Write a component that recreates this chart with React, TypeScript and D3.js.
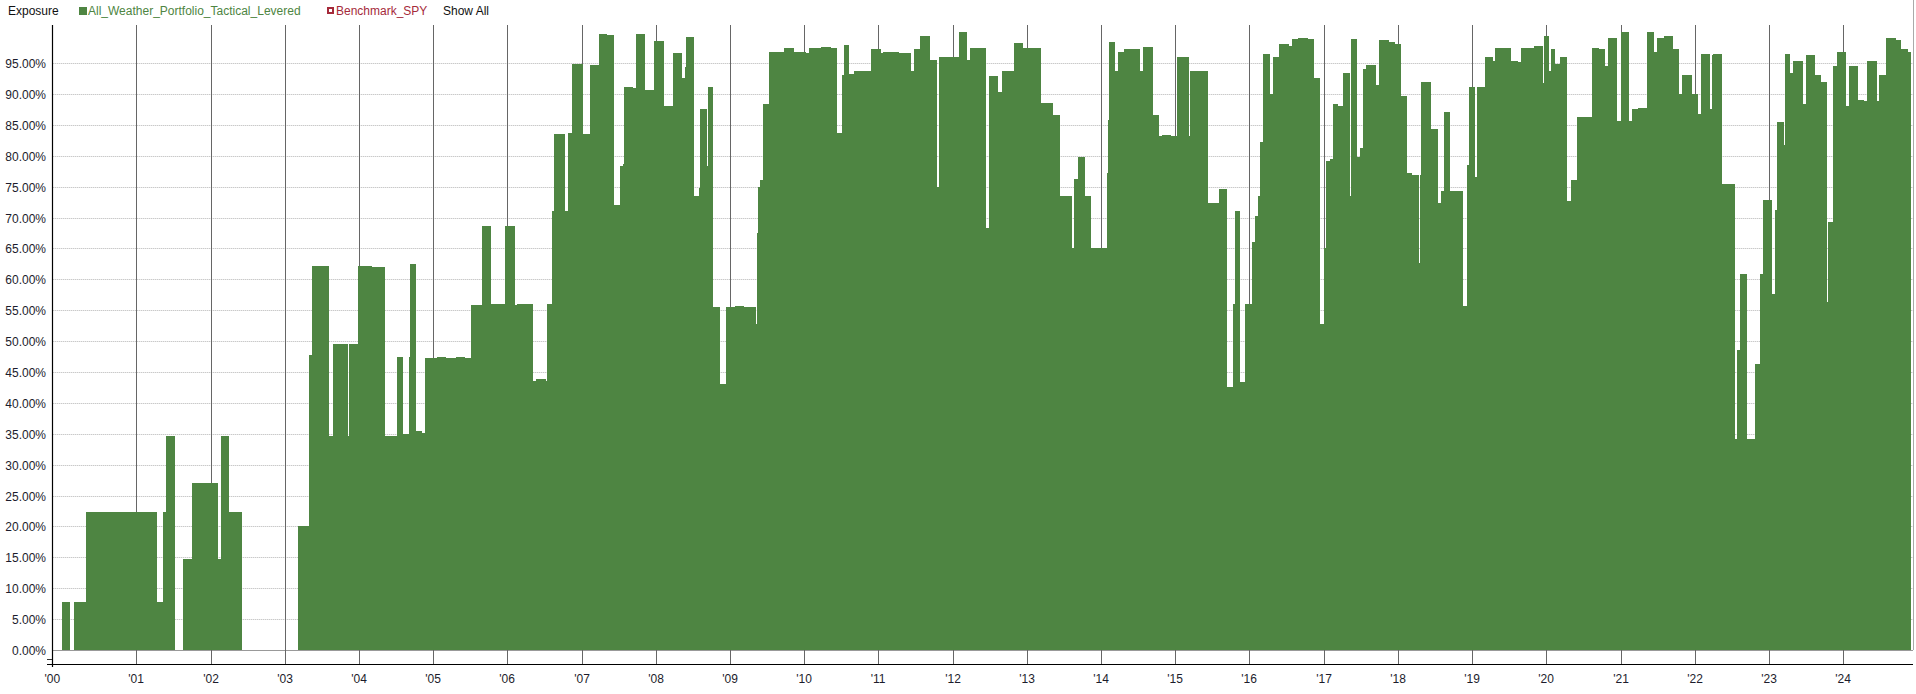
import React from "react";
import * as d3 from "d3";

// ---------- DATA ----------
// Start of each exposure period, in decimal years; each period lasts until the next start.
const periodStart: number[] = [
  2000.000, 2000.107, 2000.161, 2000.322,
  2001.279, 2001.360, 2001.400, 2001.521, 2001.629, 2001.750,
  2002.101, 2002.141, 2002.249, 2002.424,
  2003.179, 2003.327, 2003.367, 2003.596, 2003.650, 2003.852, 2003.866, 2003.987,
  2004.176, 2004.351, 2004.513, 2004.594, 2004.674, 2004.688, 2004.769, 2004.850, 2004.890,
  2005.052, 2005.173, 2005.308, 2005.429, 2005.510, 2005.658, 2005.779, 2005.968,
  2006.103, 2006.130, 2006.345, 2006.386, 2006.520, 2006.534, 2006.601, 2006.628, 2006.776, 2006.817, 2006.871,
  2007.019, 2007.113, 2007.234, 2007.342, 2007.437, 2007.517, 2007.558, 2007.571, 2007.693, 2007.733, 2007.854, 2007.976,
  2008.110, 2008.232, 2008.353, 2008.393, 2008.407, 2008.515, 2008.582, 2008.595, 2008.690, 2008.703, 2008.770, 2008.865, 2008.946,
  2009.067, 2009.188, 2009.350, 2009.363, 2009.377, 2009.404, 2009.444, 2009.525, 2009.727, 2009.862,
  2010.024, 2010.064, 2010.226, 2010.360, 2010.441, 2010.509, 2010.536, 2010.603, 2010.670, 2010.899,
  2011.034, 2011.061, 2011.277, 2011.438, 2011.479, 2011.560, 2011.694, 2011.789, 2011.816,
  2012.085, 2012.193, 2012.233, 2012.449, 2012.489, 2012.611, 2012.664, 2012.826, 2012.947,
  2013.190, 2013.352, 2013.446, 2013.608, 2013.635, 2013.689, 2013.783, 2013.864,
  2014.079, 2014.093, 2014.106, 2014.187, 2014.227, 2014.308, 2014.524, 2014.564, 2014.699, 2014.780, 2014.820, 2014.942,
  2015.022, 2015.184, 2015.198, 2015.440, 2015.588, 2015.696, 2015.777, 2015.804, 2015.871, 2015.939,
  2016.033, 2016.073, 2016.114, 2016.141, 2016.181, 2016.276, 2016.316, 2016.397, 2016.531, 2016.572, 2016.653, 2016.788, 2016.868, 2016.949,
  2017.003, 2017.030, 2017.084, 2017.124, 2017.192, 2017.259, 2017.353, 2017.367, 2017.448, 2017.488, 2017.529, 2017.569, 2017.704, 2017.744, 2017.879, 2017.960,
  2018.041, 2018.121, 2018.189, 2018.283, 2018.297, 2018.310, 2018.445, 2018.539, 2018.580, 2018.620, 2018.701, 2018.876, 2018.930, 2018.957,
  2019.038, 2019.065, 2019.172, 2019.280, 2019.307, 2019.523, 2019.617, 2019.658, 2019.833, 2019.954, 2019.967,
  2020.035, 2020.062, 2020.116, 2020.183, 2020.277, 2020.331, 2020.412, 2020.614, 2020.708, 2020.789, 2020.830, 2020.951,
  2021.005, 2021.113, 2021.153, 2021.234, 2021.355, 2021.450, 2021.490, 2021.584, 2021.706, 2021.786, 2021.827, 2021.962,
  2022.042, 2022.083, 2022.204, 2022.231, 2022.245, 2022.366, 2022.541, 2022.568, 2022.608, 2022.703, 2022.810, 2022.878, 2022.918,
  2023.039, 2023.080, 2023.107, 2023.201, 2023.215, 2023.282, 2023.322, 2023.457, 2023.498, 2023.619, 2023.700, 2023.781, 2023.794, 2023.861, 2023.915,
  2024.037, 2024.077, 2024.198, 2024.279, 2024.319, 2024.454, 2024.481, 2024.576, 2024.710, 2024.778, 2024.872,
];
const lastPeriodEnd = 2024.913;

// Exposure (%) of All_Weather_Portfolio_Tactical_Levered for each period above.
const exposurePct: number[] = [
  7.8, 0, 7.8, 22.3,
  7.8, 22.3, 34.7, 0, 14.8, 27.1,
  14.8, 34.7, 22.3, 0,
  20.0, 47.8, 62.2, 34.7, 49.6, 34.7, 49.6, 62.2,
  62.0, 34.7, 47.5, 35.0, 47.5, 62.4, 35.4, 35.2, 47.3,
  47.5, 47.3, 47.5, 47.3, 55.9, 68.6, 56.0, 68.6,
  55.9, 56.0, 43.6, 43.8, 43.6, 56.0, 71.0, 83.6, 71.0, 83.7, 94.9,
  83.6, 94.7, 99.7, 99.5, 72.1, 78.4, 78.7, 91.2, 91.0, 99.7, 90.7, 98.6,
  88.1, 96.6, 92.6, 94.4, 99.2, 73.5, 74.8, 87.5, 78.4, 91.2, 55.6, 43.0, 55.6,
  55.7, 55.6, 52.7, 67.5, 75.0, 76.0, 88.3, 96.8, 97.4, 96.8,
  96.6, 97.4, 97.6, 97.4, 83.7, 93.1, 98.0, 93.3, 93.7, 97.2,
  96.6, 96.8, 96.6, 93.7, 97.2, 99.4, 95.5, 75.0, 96.0,
  100.1, 95.5, 97.4, 68.3, 92.9, 90.4, 93.7, 98.3, 97.4,
  88.6, 86.6, 73.5, 65.0, 76.2, 79.8, 73.5, 65.0,
  77.2, 85.8, 98.4, 93.7, 96.8, 97.2, 93.7, 97.6, 86.6, 83.2, 83.4, 83.2,
  96.0, 83.2, 93.7, 72.4, 74.7, 42.6, 56.0, 71.0, 43.3, 56.0,
  66.1, 70.3, 73.5, 82.2, 96.5, 90.0, 96.0, 98.1, 97.8, 98.9, 99.1, 98.9, 92.6, 52.7,
  65.0, 79.2, 79.5, 88.3, 88.1, 93.4, 73.5, 98.9, 79.8, 81.3, 94.1, 94.7, 91.5, 98.7, 98.4, 98.1,
  89.7, 77.2, 76.9, 62.7, 76.9, 91.9, 84.4, 72.4, 74.3, 87.1, 74.3, 55.7, 78.5, 91.2,
  76.6, 91.2, 96.0, 95.4, 97.4, 95.4, 95.2, 97.4, 97.8, 91.8, 99.4,
  93.7, 97.2, 94.9, 96.0, 72.7, 76.1, 86.3, 97.4, 97.2, 94.5, 99.1, 85.7,
  100.1, 85.7, 87.5, 87.7, 100.1, 96.8, 99.1, 99.4, 97.2, 90.0, 93.1, 90.0,
  86.8, 96.5, 87.6, 96.3, 96.5, 75.4, 34.1, 48.6, 60.9, 34.1, 46.3, 60.9, 72.9,
  57.7, 71.3, 85.5, 81.8, 96.5, 93.4, 95.4, 88.3, 96.3, 93.1, 91.9, 56.3, 69.2, 94.5, 96.8,
  88.0, 94.5, 89.1, 88.9, 95.4, 88.8, 93.1, 99.1, 98.8, 97.2, 96.8,
];

const yTickValues: number[] = [0, 5, 10, 15, 20, 25, 30, 35, 40, 45, 50, 55, 60, 65, 70, 75, 80, 85, 90, 95];
const xDomainYears: [number, number] = [1999.868, 2024.926];
const firstTickLabel = "'00";

const seriesName = "All_Weather_Portfolio_Tactical_Levered";
const benchmarkName = "Benchmark_SPY";
const chartTitle = "Exposure";
const showAllLabel = "Show All";

// ---------- HELPERS ----------
const yearToDate = (y: number): Date => {
  const yr = Math.floor(y);
  const a = Date.UTC(yr, 0, 1);
  const b = Date.UTC(yr + 1, 0, 1);
  return new Date(a + (y - yr) * (b - a));
};

const GREEN = "#4e8542";
const RED = "#a52a3a";
const FONT = "'Liberation Sans', Arial, sans-serif";

export default function App() {
  const W = 1916;
  const H = 694;
  const left = 52.3;
  const right = 1912;
  const zeroY = 650;
  const topY = 25;
  const axisY = 664.5;

  const x = d3
    .scaleUtc()
    .domain([yearToDate(xDomainYears[0]), yearToDate(xDomainYears[1])])
    .range([left, right]);
  const y = d3.scaleLinear().domain([0, 100]).range([zeroY, 32.2]);

  const bars = periodStart.map((s, i) => {
    const e = i + 1 < periodStart.length ? periodStart[i + 1] : lastPeriodEnd;
    return { x0: x(yearToDate(s)), x1: x(yearToDate(e)), v: exposurePct[i] };
  });

  const yearTicks = d3.utcYear.range(new Date(Date.UTC(2001, 0, 1)), new Date(Date.UTC(2025, 0, 1)));
  const fmtYear = d3.utcFormat("'%y");
  const fmtPct = (v: number) => d3.format(".2f")(v) + "%";

  return (
    <svg
      width={W}
      height={H}
      style={{ position: "absolute", left: 0, top: 0, background: "#fff" }}
      fontFamily={FONT}
      fontSize={12}
    >
      {/* horizontal dotted grid */}
      {yTickValues.map((v) => {
        const yy = Math.round(y(v)) + 0.5;
        return v === 0 ? (
          <line key={"g" + v} x1={left} x2={1913} y1={yy} y2={yy} stroke="#999" strokeWidth={1} />
        ) : (
          <line key={"g" + v} x1={left + 1} x2={1913} y1={yy} y2={yy} stroke="#b4b4b4" strokeWidth={1} strokeDasharray="1,1" />
        );
      })}

      {/* vertical year lines */}
      {yearTicks.map((d) => {
        const xx = Math.round(x(d)) + 0.5;
        return <line key={"v" + d.getTime()} x1={xx} x2={xx} y1={topY} y2={axisY} stroke="#666" strokeWidth={1} />;
      })}

      {/* bars */}
      <g shapeRendering="crispEdges">
        {bars
          .filter((b) => b.v > 0)
          .map((b, i) => (
            <rect key={"b" + i} x={b.x0} y={y(b.v)} width={Math.max(0, b.x1 - b.x0)} height={zeroY - y(b.v)} fill={GREEN} />
          ))}
      </g>

      {/* right border */}
      <line x1={1913.5} x2={1913.5} y1={0} y2={zeroY} stroke="#aaa" strokeWidth={1} />

      {/* axes */}
      <line x1={52.5} x2={52.5} y1={topY} y2={667} stroke="#000" strokeWidth={1.2} />
      <line x1={47} x2={1913} y1={axisY} y2={axisY} stroke="#000" strokeWidth={1.2} />
      <line x1={47} x2={52} y1={659.5} y2={659.5} stroke="#333" strokeWidth={1} />

      {/* y tick labels */}
      {yTickValues.map((v) => (
        <text key={"yl" + v} x={46} y={Math.round(y(v)) + 4.5} textAnchor="end" fill="#1c1c2c">
          {fmtPct(v)}
        </text>
      ))}

      {/* x tick labels */}
      <text x={left} y={683} textAnchor="middle" fill="#1c1c2c">
        {firstTickLabel}
      </text>
      {yearTicks.map((d) => (
        <text key={"xl" + d.getTime()} x={Math.round(x(d))} y={683} textAnchor="middle" fill="#1c1c2c">
          {fmtYear(d)}
        </text>
      ))}

      {/* legend */}
      <text x={8} y={15} fill="#111">
        {chartTitle}
      </text>
      <rect x={79} y={7} width={8} height={8} fill={GREEN} />
      <text x={88} y={15} fill={GREEN}>
        {seriesName}
      </text>
      <rect x={328} y={8} width={5} height={5} fill="#fff" stroke={RED} strokeWidth={2} />
      <text x={336} y={15} fill={RED}>
        {benchmarkName}
      </text>
      <text x={443} y={15} fill="#111">
        {showAllLabel}
      </text>
    </svg>
  );
}
